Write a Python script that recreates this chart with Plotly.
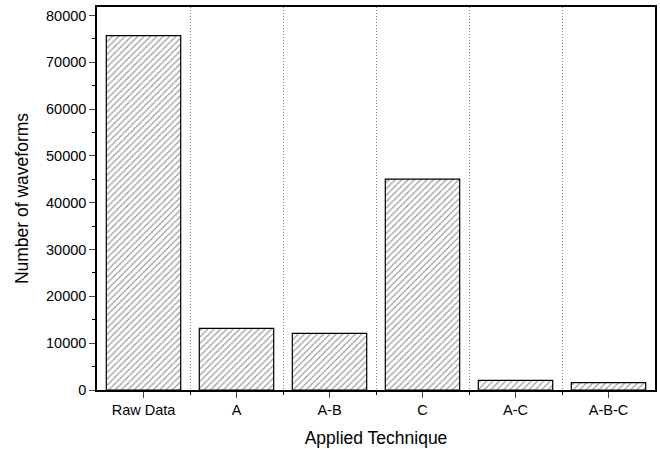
import plotly.graph_objects as go

categories = ["Raw Data", "A", "A-B", "C", "A-C", "A-B-C"]
waveforms = [75700, 13180, 12110, 45050, 2070, 1560]
y_tick_vals = [0, 10000, 20000, 30000, 40000, 50000, 60000, 70000, 80000]
y_tick_text = [str(v) for v in y_tick_vals]

x_pos = list(range(len(categories)))
boundaries = [i + 0.5 for i in range(len(categories) - 1)]

fig = go.Figure(
    go.Bar(
        x=x_pos,
        y=waveforms,
        width=0.8,
        marker=dict(
            color="white",
            line=dict(color="black", width=1.2),
            pattern=dict(shape="/", fgcolor="#222", bgcolor="white", size=4.5, solidity=0.25),
        ),
    )
)

font = "Liberation Sans, Arial, sans-serif"
fig.update_layout(
    width=660,
    height=449,
    margin=dict(l=97, r=5, t=7, b=59),
    plot_bgcolor="white",
    paper_bgcolor="white",
    showlegend=False,
    font=dict(family=font, color="black", size=14.5),
    xaxis=dict(
        range=[-0.5, len(categories) - 0.5],
        tickmode="array",
        tickvals=x_pos,
        ticktext=categories,
        ticks="outside",
        ticklen=6,
        tickwidth=1.2,
        showgrid=False,
        zeroline=False,
        showline=True,
        linecolor="black",
        linewidth=1.5,
        mirror=True,
        automargin=False,
        title=dict(text="Applied Technique", font=dict(size=17.5), standoff=15),
        minor=dict(
            tickmode="array",
            tickvals=boundaries,
            ticks="outside",
            ticklen=3,
            tickwidth=1.2,
            tickcolor="black",
            showgrid=True,
            gridcolor="#888",
            griddash="1px,2px",
            gridwidth=1,
        ),
    ),
    yaxis=dict(
        range=[0, 81800],
        tickmode="array",
        tickvals=y_tick_vals,
        ticktext=y_tick_text,
        ticks="outside",
        ticklen=6,
        tickwidth=1.2,
        showgrid=False,
        zeroline=False,
        showline=True,
        linecolor="black",
        linewidth=1.5,
        mirror=True,
        automargin=False,
        title=dict(text="Number of waveforms", font=dict(size=17.5), standoff=13),
        minor=dict(dtick=5000, tick0=0, ticks="outside", ticklen=3, tickwidth=1.2, tickcolor="black", showgrid=False),
    ),
)

fig.write_html(
    "out.html",
    config={"displayModeBar": False},
    post_script="document.body.style.margin='0';",
)
